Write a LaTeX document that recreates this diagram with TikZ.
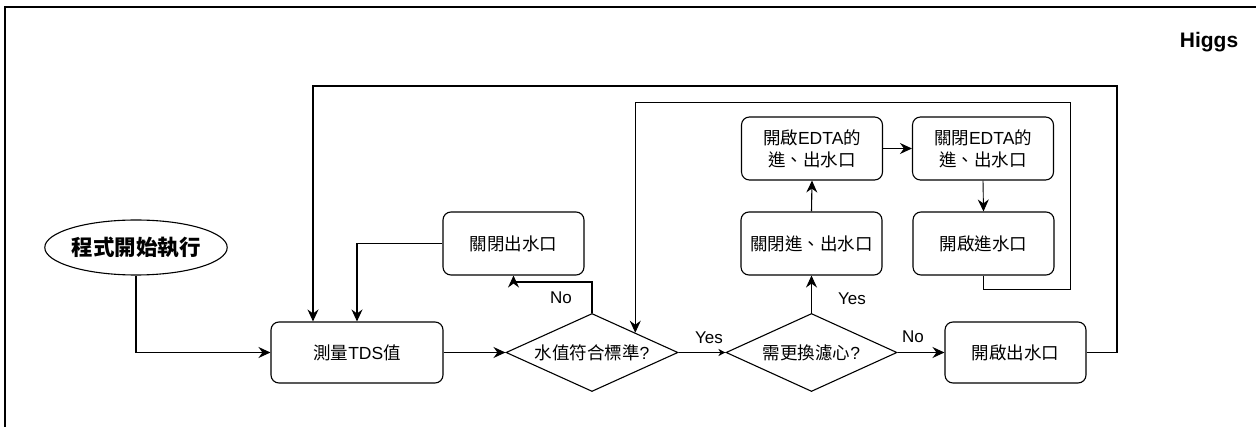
\documentclass[tikz,border=0pt]{standalone}
\usepackage{fontspec}
\setmainfont{Liberation Sans}
\newfontfamily\cjk{Noto Sans CJK TC}
\usetikzlibrary{shapes.geometric,arrows.meta,calc}
\newcommand\lat[1]{{\rmfamily #1}}
\begin{document}
\begin{tikzpicture}[x=1pt,y=-1pt,
  box/.style={draw,line width=1.1pt,rounded corners=8pt,minimum width=141pt,minimum height=63pt,inner sep=0pt,align=center,font=\cjk\fontsize{17.5}{22}\selectfont},
  dia/.style={draw,diamond,aspect=2.2,minimum width=172pt,minimum height=78pt,inner sep=0pt,line width=1.1pt,font=\cjk\fontsize{17.5}{22}\selectfont},
  arr/.style={line width=1.1pt,-{Stealth[length=12pt,width=11pt,inset=4pt]}},
  ln/.style={line width=1.1pt},
  thin/.style={line width=0.9pt},
  lbl/.style={font=\fontsize{17}{19}\selectfont,inner sep=0pt}]
\useasboundingbox (0,0) rectangle (1256,427);
\draw[line width=1.6pt] (5,440) -- (5,7) -- (1270,7);
\node[font=\bfseries\fontsize{21}{24}\selectfont,inner sep=0pt] (higgs) at (1209,42) {Higgs};

\node[draw,ellipse,line width=1.1pt,minimum width=142pt,minimum height=55pt,inner sep=0pt,font=\cjk\bfseries\fontsize{21.5}{24}\selectfont] (start) at (136,247.5) {程式開始執行};
\node[box,minimum width=172pt,minimum height=61pt] (tds) at (357,352.5) {測量\lat{TDS}值};
\node[box] (close) at (513.5,243.5) {關閉出水口};
\node[dia] (d1) at (592,352.5) {水值符合標準\lat{?}};
\node[dia,minimum width=171pt] (d2) at (811.5,352.5) {需更換濾心\lat{?}};
\node[box] (cio) at (811.5,243.5) {關閉進、出水口};
\node[box] (edta1) at (812,148.5) {開啟\lat{EDTA}的\\進、出水口};
\node[box] (edta2) at (983,148.5) {關閉\lat{EDTA}的\\進、出水口};
\node[box] (oin) at (983.5,243.5) {開啟進水口};
\node[box,minimum height=61pt] (open) at (1015.5,352.5) {開啟出水口};

\coordinate (c1) at (592,282);
\coordinate (o1) at (1117,86);
\coordinate (o2) at (313,86);
\coordinate (i1) at (1070,289);
\coordinate (i2) at (1070,102);
\coordinate (i3) at ($(d1.north)!0.5!(d1.east)$);

\draw[arr] (start.south) |- (tds.west);
\draw[arr] (tds.east) -- (d1.west);
\draw[arr] (d1.north) -- (c1) -| (close.south);
\draw[arr] (close.west) -| (tds.north);
\draw[arr] (open.east) -| (o1) -- (o2) -- (o2 |- tds.north);
\draw[arr,-{Stealth[length=7pt,width=7pt,inset=2pt]}] (d1.east) -- (d2.west);
\draw[arr] (d2.north) -- (cio.south);
\draw[arr] (cio.north) -- (edta1.south);
\draw[arr] (edta1.east) -- (edta2.west);
\draw[arr,thin] (edta2.south) -- (oin.north);
\draw[arr,thin] (oin.south) |- (i1) -- (i2) -| (i3);
\draw[arr] (d2.east) -- (open.west);

\node[lbl] (no1) at (561,298) {No};
\node[lbl] (yes1) at (709,338) {Yes};
\node[lbl] (yes2) at (852,299) {Yes};
\node[lbl] (no2) at (913,337) {No};
\end{tikzpicture}
\end{document}
